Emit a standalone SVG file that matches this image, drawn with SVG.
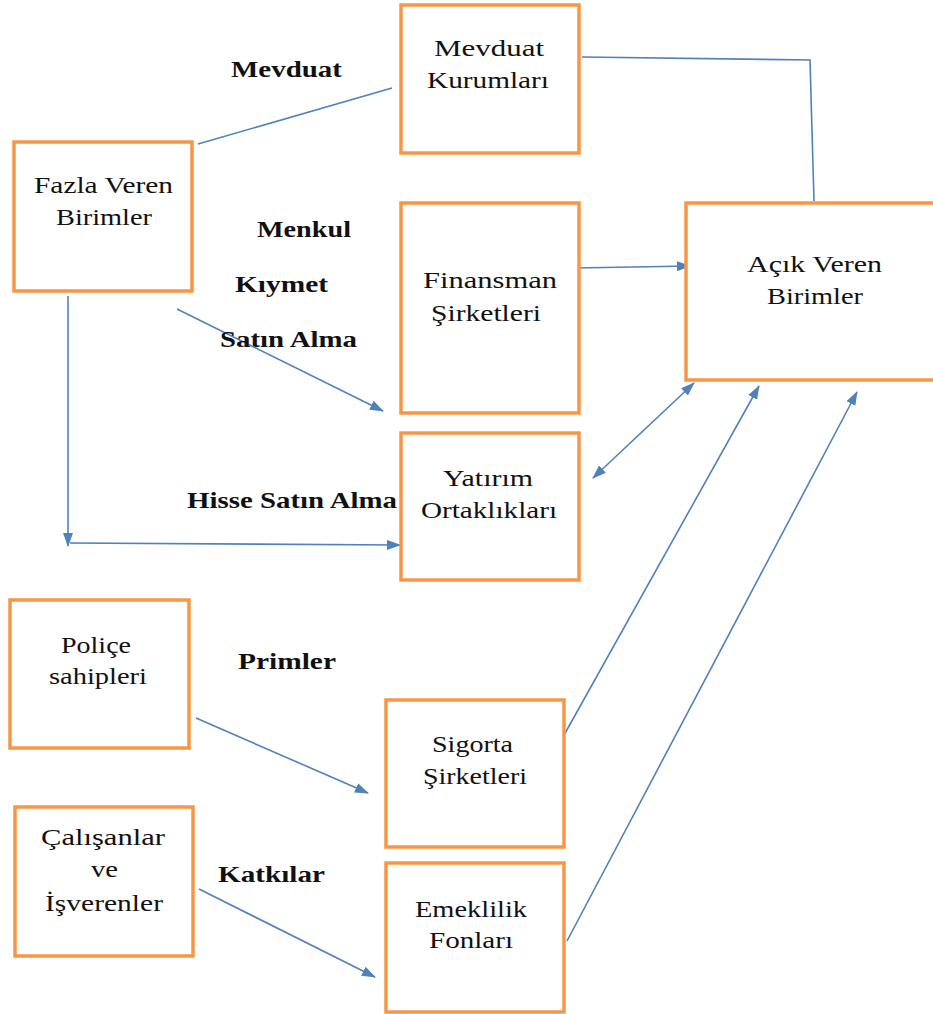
<svg xmlns="http://www.w3.org/2000/svg" width="933" height="1014" viewBox="0 0 933 1014">
  <style>
    .box { fill: #ffffff; stroke: #F79646; stroke-width: 3.5; }
    .txt { font-family: "Liberation Serif", "Times New Roman", serif; font-size: 24px; fill: #111111; }
    .lbl { font-family: "Liberation Serif", "Times New Roman", serif; font-size: 23px; font-weight: bold; fill: #111111; }
    .con { fill: none; stroke: #4F81BD; stroke-width: 1.6; }
  </style>
  <defs>
    <marker id="arr" viewBox="0 0 14 10" refX="13" refY="5" markerWidth="14" markerHeight="10" markerUnits="userSpaceOnUse" orient="auto-start-reverse">
      <path d="M0,0 L14,5 L0,10 Z" fill="#4F81BD"/>
    </marker>
  </defs>
  <rect width="933" height="1014" fill="#ffffff"/>

  <!-- connectors -->
  <g id="connectors">
    <line class="con" x1="198" y1="144" x2="392" y2="88"/>
    <polyline class="con" points="582,57 810,60 814,201"/>
    <line class="con" x1="575" y1="268" x2="690" y2="266" marker-end="url(#arr)"/>
    <line class="con" x1="177" y1="309" x2="383" y2="411" marker-end="url(#arr)"/>
    <line class="con" x1="68" y1="296" x2="68" y2="546" marker-end="url(#arr)"/>
    <line class="con" x1="70" y1="543" x2="400" y2="545" marker-end="url(#arr)"/>
    <line class="con" x1="593" y1="478" x2="694" y2="383" marker-start="url(#arr)" marker-end="url(#arr)"/>
    <line class="con" x1="554" y1="753" x2="759" y2="386" marker-end="url(#arr)"/>
    <line class="con" x1="567" y1="941" x2="857" y2="392" marker-end="url(#arr)"/>
    <line class="con" x1="196" y1="718" x2="368" y2="793" marker-end="url(#arr)"/>
    <line class="con" x1="199" y1="889" x2="375" y2="977" marker-end="url(#arr)"/>
  </g>

  <!-- flow labels -->
  <g id="labels">
    <text class="lbl" x="231" y="77" textLength="111" lengthAdjust="spacingAndGlyphs">Mevduat</text>
    <text class="lbl" x="257" y="237" textLength="94" lengthAdjust="spacingAndGlyphs">Menkul</text>
    <text class="lbl" x="235" y="292" textLength="93" lengthAdjust="spacingAndGlyphs">Kıymet</text>
    <text class="lbl" x="220" y="347" textLength="137" lengthAdjust="spacingAndGlyphs">Satın Alma</text>
    <text class="lbl" x="187" y="508" textLength="210" lengthAdjust="spacingAndGlyphs">Hisse Satın Alma</text>
    <text class="lbl" x="238" y="669" textLength="98" lengthAdjust="spacingAndGlyphs">Primler</text>
    <text class="lbl" x="218" y="882" textLength="107" lengthAdjust="spacingAndGlyphs">Katkılar</text>
  </g>

  <g id="mevduat-kurumlari">
    <rect class="box" x="401" y="5" width="178" height="148"/>
    <text class="txt" x="434" y="56" textLength="110" lengthAdjust="spacingAndGlyphs">Mevduat</text>
    <text class="txt" x="427" y="88" textLength="122" lengthAdjust="spacingAndGlyphs">Kurumları</text>
  </g>

  <g id="fazla-veren">
    <rect class="box" x="14" y="142" width="178" height="149"/>
    <text class="txt" x="34" y="193" textLength="139" lengthAdjust="spacingAndGlyphs">Fazla Veren</text>
    <text class="txt" x="56" y="225" textLength="96" lengthAdjust="spacingAndGlyphs">Birimler</text>
  </g>

  <g id="finansman">
    <rect class="box" x="401" y="203" width="178" height="210"/>
    <text class="txt" x="423" y="288" textLength="134" lengthAdjust="spacingAndGlyphs">Finansman</text>
    <text class="txt" x="431" y="321" textLength="110" lengthAdjust="spacingAndGlyphs">Şirketleri</text>
  </g>

  <g id="yatirim">
    <rect class="box" x="401" y="433" width="178" height="147"/>
    <text class="txt" x="443" y="486" textLength="90" lengthAdjust="spacingAndGlyphs">Yatırım</text>
    <text class="txt" x="421" y="518" textLength="136" lengthAdjust="spacingAndGlyphs">Ortaklıkları</text>
  </g>

  <g id="acik-veren">
    <rect class="box" x="686" y="203" width="260" height="177"/>
    <text class="txt" x="747" y="272" textLength="135" lengthAdjust="spacingAndGlyphs">Açık Veren</text>
    <text class="txt" x="767" y="304" textLength="96" lengthAdjust="spacingAndGlyphs">Birimler</text>
  </g>

  <g id="police">
    <rect class="box" x="10" y="600" width="179" height="148"/>
    <text class="txt" x="61" y="653" textLength="70" lengthAdjust="spacingAndGlyphs">Poliçe</text>
    <text class="txt" x="49" y="684" textLength="98" lengthAdjust="spacingAndGlyphs">sahipleri</text>
  </g>

  <g id="sigorta">
    <rect class="box" x="386" y="700" width="178" height="147"/>
    <text class="txt" x="432" y="752" textLength="81" lengthAdjust="spacingAndGlyphs">Sigorta</text>
    <text class="txt" x="423" y="784" textLength="104" lengthAdjust="spacingAndGlyphs">Şirketleri</text>
  </g>

  <g id="calisanlar">
    <rect class="box" x="15" y="807" width="178" height="149"/>
    <text class="txt" x="41" y="845" textLength="124" lengthAdjust="spacingAndGlyphs">Çalışanlar</text>
    <text class="txt" x="91" y="877" textLength="27" lengthAdjust="spacingAndGlyphs">ve</text>
    <text class="txt" x="45" y="911" textLength="118" lengthAdjust="spacingAndGlyphs">İşverenler</text>
  </g>

  <g id="emeklilik">
    <rect class="box" x="386" y="863" width="178" height="149"/>
    <text class="txt" x="415" y="917" textLength="112" lengthAdjust="spacingAndGlyphs">Emeklilik</text>
    <text class="txt" x="429" y="948" textLength="84" lengthAdjust="spacingAndGlyphs">Fonları</text>
  </g>
</svg>
